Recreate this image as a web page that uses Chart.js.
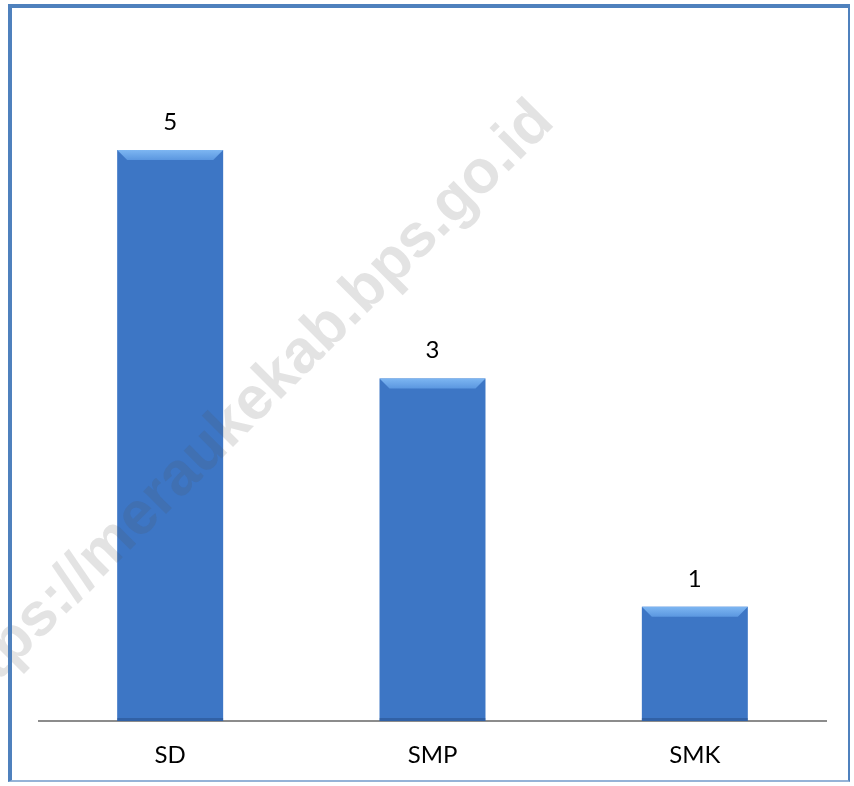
<!DOCTYPE html>
<html>
<head>
<meta charset="utf-8">
<script src="https://cdn.jsdelivr.net/npm/chart.js@4"></script>
<style>
  html, body { margin: 0; padding: 0; background: #fff; }
  #wrap { position: relative; width: 854px; height: 786px; }
  #frame {
    position: absolute; left: 8px; top: 4px; width: 842px; height: 778px;
    border-left: 4px solid #4f81bd; border-top: 4px solid #4f81bd;
    border-right: 2px solid #4f81bd; border-bottom: 2px solid #95b3d7;
    pointer-events: none; box-sizing: border-box;
  }
  canvas { position: absolute; left: 0; top: 0; }
</style>
</head>
<body>
<div id="wrap">
  <canvas id="chart" width="854" height="786"></canvas>
  <div id="frame"></div>
</div>
<script>
// data
const categories = ['SD', 'SMP', 'SMK'];
const jumlah = [5, 3, 1];
const watermark = 'https://meraukekab.bps.go.id';

const ctx = document.getElementById('chart');

// gradient for each bar, left to right
function barFill(context) {
  const chart = context.chart;
  const el = context.element;
  if (!chart.chartArea || !el || !el.width) return '#3d76c5';
  const x0 = el.x - el.width / 2;
  const g = chart.ctx.createLinearGradient(x0, 0, x0 + el.width, 0);
  g.addColorStop(0, '#3a6fbd');
  g.addColorStop(0.08, '#4a80d2');
  g.addColorStop(0.5, '#3e77c7');
  g.addColorStop(0.9, '#3467b0');
  g.addColorStop(1, '#264d88');
  return g;
}

// top bevel, value labels, watermark
const barExtras = {
  id: 'barExtras',
  afterDatasetsDraw(chart) {
    const c = chart.ctx;
    const meta = chart.getDatasetMeta(0);
    meta.data.forEach((bar, i) => {
      const l = bar.x - bar.width / 2, r = bar.x + bar.width / 2, t = bar.y;
      const b = 10;
      c.save();
      const g = c.createLinearGradient(0, t, 0, t + b);
      g.addColorStop(0, '#7db6f2');
      g.addColorStop(1, '#5b97e0');
      c.fillStyle = g;
      c.beginPath();
      c.moveTo(l, t);
      c.lineTo(r, t);
      c.lineTo(r - b, t + b);
      c.lineTo(l + b, t + b);
      c.closePath();
      c.fill();
      c.fillStyle = 'rgba(30,60,110,0.35)';
      c.fillRect(l, bar.base - 3, bar.width, 3);
      c.restore();

      c.save();
      c.fillStyle = '#000';
      c.font = '24px Lato, "Liberation Sans", sans-serif';
      c.textAlign = 'center';
      c.textBaseline = 'bottom';
      c.fillText(String(jumlah[i]), bar.x, t - 16);
      c.restore();
    });

    c.save();
    c.translate(556, 124);
    c.rotate(-Math.PI / 4);
    c.font = 'bold 61px "Liberation Sans", Arial, sans-serif';
    c.fillStyle = 'rgba(80,80,80,0.16)';
    c.textAlign = 'right';
    c.textBaseline = 'alphabetic';
    c.fillText(watermark, 0, 0);
    c.restore();
  }
};

new Chart(ctx, {
  type: 'bar',
  data: {
    labels: categories,
    datasets: [{
      label: 'Jumlah',
      data: jumlah,
      backgroundColor: barFill,
      borderWidth: 0,
      categoryPercentage: 1,
      barPercentage: 0.404
    }]
  },
  options: {
    responsive: false,
    animation: false,
    layout: {
      padding: { left: 39, right: 28, top: 150, bottom: 0 }
    },
    plugins: {
      legend: { display: false },
      tooltip: { enabled: false }
    },
    scales: {
      x: {
        grid: { display: false },
        border: { display: true, color: '#8c8c8c', width: 2 },
        afterFit(scale) { scale.height = 65; },
        ticks: {
          color: '#000',
          padding: 12,
          font: { family: 'Lato, "Liberation Sans", sans-serif', size: 24 }
        }
      },
      y: {
        display: false,
        min: 0,
        max: 5
      }
    }
  },
  plugins: [barExtras]
});
</script>
</body>
</html>
